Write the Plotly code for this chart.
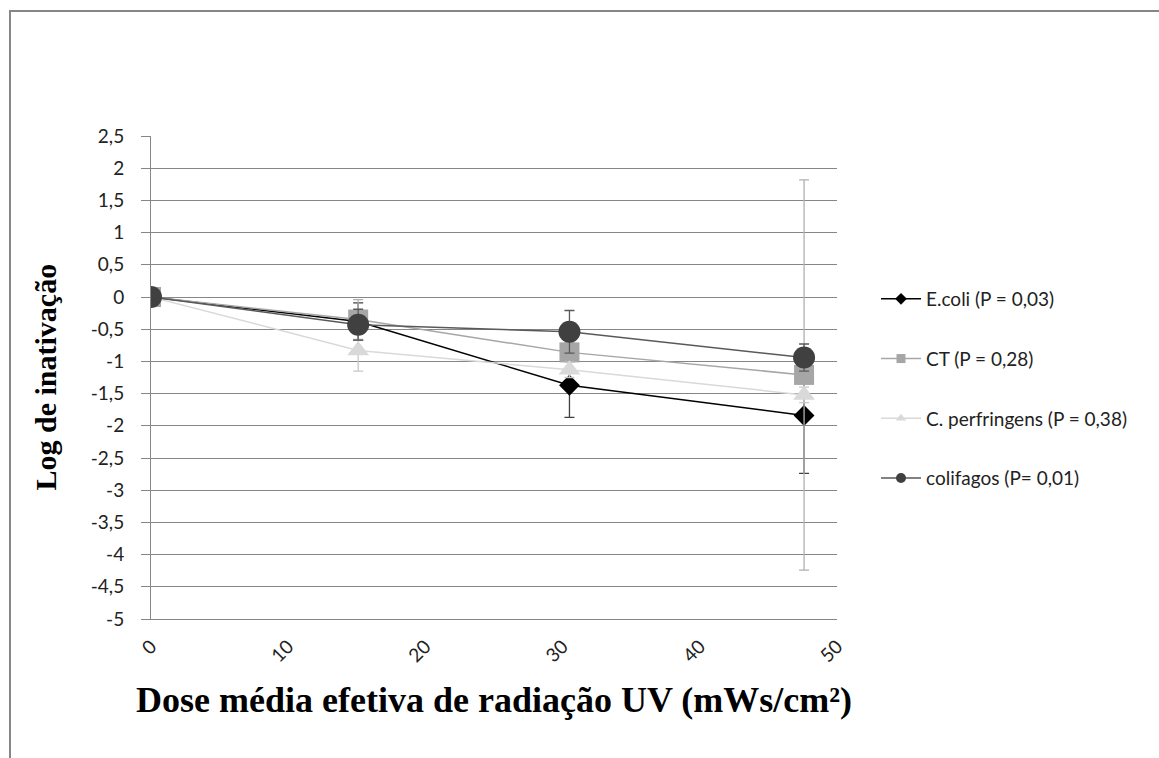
import plotly.graph_objects as go

# ---- data ----
dose = [0, 15.1, 30.5, 47.6]

series_names = ["E.coli (P = 0,03)", "CT (P = 0,28)", "C. perfringens (P = 0,38)", "colifagos (P= 0,01)"]
ecoli = [0, -0.38, -1.37, -1.84]
ecoli_err = [0, 0.29, 0.50, 0.90]
ct = [0, -0.35, -0.86, -1.21]
ct_err = [0, 0.31, 0.15, 3.03]
cperf = [0, -0.83, -1.13, -1.52]
cperf_err = [0, 0.32, 0.12, 0.12]
colif = [0, -0.43, -0.54, -0.94]
colif_err = [0, 0.24, 0.33, 0.21]

y_tickvals = [2.5, 2, 1.5, 1, 0.5, 0, -0.5, -1, -1.5, -2, -2.5, -3, -3.5, -4, -4.5, -5]
y_ticktext = ["2,5", "2", "1,5", "1", "0,5", "0", "-0,5", "-1", "-1,5", "-2", "-2,5", "-3", "-3,5", "-4", "-4,5", "-5"]
x_tickvals = [0, 10, 20, 30, 40, 50]
x_ticktext = ["0", "10", "20", "30", "40", "50"]

# ---- styles ----
W, H = 1159, 758
L, R, T, B = 151, 837, 136, 619
GRID = "#868686"
TICKFONT = dict(family="Lato, Calibri, sans-serif", size=19, color="#222")
SERIF = "Liberation Serif, Times New Roman, serif"

styles = [
    dict(line="#000000", marker="#000000", symbol="diamond", size=16, err="#404040"),
    dict(line="#A6A6A6", marker="#A6A6A6", symbol="square", size=20, err="#B0B0B0"),
    dict(line="#D9D9D9", marker="#D9D9D9", symbol="triangle-up", size=19, err="#C8C8C8"),
    dict(line="#595959", marker="#404040", symbol="circle", size=22, err="#595959"),
]
legend_sizes = [9, 9, 9, 10]
ys = [ecoli, ct, cperf, colif]
errs = [ecoli_err, ct_err, cperf_err, colif_err]

fig = go.Figure()
for name, yv, ev, st in zip(series_names, ys, errs, styles):
    fig.add_trace(go.Scatter(
        x=dose, y=yv, mode="lines+markers", name=name, showlegend=False,
        line=dict(color=st["line"], width=1.5),
        marker=dict(color=st["marker"], symbol=st["symbol"], size=st["size"], line=dict(width=0)),
        error_y=dict(type="data", array=ev, visible=True, color=st["err"], thickness=1.3, width=5),
    ))

# legend entries (smaller markers, as in the original legend)
for i, (name, st, ls) in enumerate(zip(series_names, styles, legend_sizes)):
    fig.add_trace(go.Scatter(
        x=[None], y=[None], mode="lines+markers", name=name, legendgroup=f"g{i}",
        line=dict(color=st["line"], width=1.5),
        marker=dict(color=st["marker"], symbol=st["symbol"], size=ls, line=dict(width=0)),
    ))

pw = R - L
ph = B - T

fig.update_layout(
    width=W, height=H,
    margin=dict(l=L, r=W - R, t=T, b=H - B, pad=0),
    paper_bgcolor="white", plot_bgcolor="white",
    showlegend=True,
    legend=dict(
        x=(876 - L) / pw, y=(B - 280) / ph, xanchor="left", yanchor="top",
        font=dict(family="Lato, Calibri, sans-serif", size=19, color="#222"),
        tracegroupgap=32, bgcolor="rgba(0,0,0,0)", itemwidth=40,
    ),
    xaxis=dict(
        range=[0, 50], tickvals=x_tickvals, ticktext=x_ticktext, tickangle=-45,
        showgrid=False, zeroline=False, showline=True, linecolor=GRID, linewidth=1,
        ticks="", tickfont=TICKFONT, ticklabelstandoff=8,
    ),
    xaxis2=dict(
        range=[0, 50], overlaying="x", anchor="free", position=5 / 7.5, side="bottom",
        tickvals=x_tickvals, showticklabels=False, ticks="outside", ticklen=7,
        tickcolor=GRID, showline=True, linecolor=GRID, linewidth=1, showgrid=False, zeroline=False,
    ),
    yaxis=dict(
        range=[-5, 2.5], tickvals=y_tickvals, ticktext=y_ticktext,
        showgrid=True, gridcolor=GRID, gridwidth=1, zeroline=False,
        showline=True, linecolor=GRID, linewidth=1,
        ticks="outside", ticklen=9, tickcolor=GRID, tickfont=TICKFONT, ticklabelstandoff=13,
    ),
    annotations=[
        dict(text="<b>Log de inativação</b>", xref="paper", yref="paper",
             x=(45 - L) / pw, y=0.5, xanchor="center", yanchor="middle", textangle=-90,
             showarrow=False, font=dict(family=SERIF, size=30, color="#000")),
        dict(text="<b>Dose média efetiva de radiação UV (mWs/cm²)</b>", xref="paper", yref="paper",
             x=0.5, y=(B - 700) / ph, xanchor="center", yanchor="middle",
             showarrow=False, font=dict(family=SERIF, size=36, color="#000")),
    ],
    shapes=[
        dict(type="rect", xref="paper", yref="paper",
             x0=(10 - L) / pw, x1=(W + 50 - L) / pw, y0=(B - (H + 50)) / ph, y1=(B - 11) / ph,
             line=dict(color=GRID, width=2), fillcolor="rgba(0,0,0,0)", layer="below"),
    ],
)

fig.write_html("out.html")
